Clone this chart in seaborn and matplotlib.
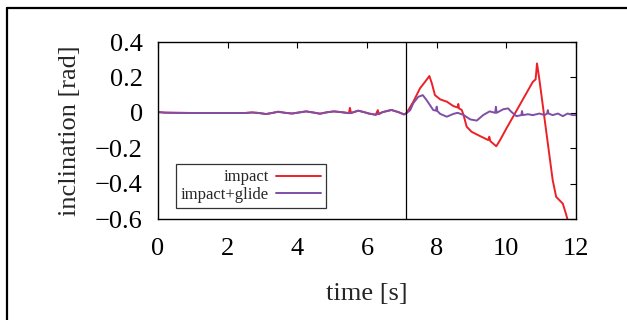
import numpy as np
import pandas as pd
import matplotlib
matplotlib.use("Agg")
import matplotlib.pyplot as plt
from matplotlib.lines import Line2D
import seaborn as sns

# ---- data ----
impact_t = [0.0, 0.2, 0.5, 1.0, 1.5, 2.0, 2.5, 2.7, 2.9, 3.1, 3.3, 3.45, 3.65, 3.85, 4.05, 4.25,
            4.45, 4.65, 4.85, 5.05, 5.25, 5.48, 5.51, 5.54, 5.75, 5.95, 6.05, 6.25, 6.31, 6.34,
            6.45, 6.7, 6.9, 7.06, 7.12,
            7.19, 7.33, 7.52, 7.67, 7.79, 7.86, 7.95, 8.1, 8.29, 8.48, 8.6, 8.62, 8.64, 8.72,
            8.77, 8.86, 9.0, 9.24, 9.48, 9.51, 9.54, 9.67, 9.71, 9.82, 10.0,
            10.19, 10.38, 10.57, 10.76, 10.84, 10.88, 10.95, 11.14, 11.33, 11.43, 11.62, 11.71,
            11.78]
impact_v = [0.004, 0.001, 0.0, -0.001, -0.001, -0.001, -0.001, 0.002, -0.001, -0.007, 0.0, 0.006,
            0.0, -0.004, 0.002, 0.008, 0.002, -0.005, 0.003, 0.008, 0.004, -0.002, 0.028, -0.002,
            0.012, 0.002, -0.004, -0.011, 0.015, -0.008, 0.004, 0.016, 0.004, -0.009, -0.004,
            0.016, 0.063, 0.138, 0.176, 0.208, 0.167, 0.1, 0.076, 0.063, 0.038, 0.03, 0.05, 0.025,
            0.016, -0.012, -0.078, -0.107, -0.131, -0.154, -0.135, -0.16, -0.182,
            -0.189, -0.154, -0.089, -0.023, 0.043, 0.109, 0.175, 0.189, 0.279, 0.185, -0.098,
            -0.38, -0.475, -0.513, -0.57, -0.62]

glide_t = [0.0, 0.2, 0.5, 1.0, 1.5, 2.0, 2.5, 2.7, 2.9, 3.1, 3.3, 3.45, 3.65, 3.85, 4.05, 4.25,
           4.45, 4.65, 4.85, 5.05, 5.25, 5.5, 5.75, 5.95, 6.05, 6.25, 6.45, 6.7, 6.9, 7.06, 7.12,
           7.24, 7.33, 7.47, 7.6, 7.71, 7.9, 7.98, 8.0, 8.02, 8.1, 8.29, 8.48, 8.6,
           8.77, 8.96, 9.15, 9.34, 9.52, 9.68, 9.7, 9.72, 9.91, 10.05, 10.14, 10.29, 10.43,
           10.45, 10.47, 10.62, 10.76, 10.95, 11.1, 11.17, 11.19, 11.21, 11.33, 11.48, 11.62,
           11.76, 11.9, 12.0]
glide_v = [0.004, 0.001, 0.0, -0.001, -0.001, -0.001, -0.001, 0.002, -0.001, -0.007, 0.0, 0.006,
           0.0, -0.004, 0.002, 0.008, 0.002, -0.005, 0.003, 0.008, 0.004, -0.002, 0.012, 0.002,
           -0.004, -0.011, 0.004, 0.016, 0.004, -0.009, -0.004,
           0.015, 0.055, 0.09, 0.1, 0.072, 0.016, 0.012, 0.035, 0.01, -0.006, -0.022,
           -0.006, 0.0, -0.012, -0.037, -0.044, -0.012, 0.008, 0.0, 0.034, 0.0, 0.02,
           0.025, 0.006, -0.019, -0.013, 0.01, -0.013, -0.008, -0.013, -0.004, -0.013, -0.004,
           0.015, -0.004, -0.013, -0.004, -0.019, -0.004, -0.013, -0.013]

impact_time = 7.12
series_names = ["impact", "impact+glide"]
x_ticks = [0, 2, 4, 6, 8, 10, 12]
y_ticks = [-0.6, -0.4, -0.2, 0.0, 0.2, 0.4]
y_tick_labels = ["\u22120.6", "\u22120.4", "\u22120.2", "0", "0.2", "0.4"]

df = pd.concat([
    pd.DataFrame({"time": impact_t, "incl": impact_v, "series": series_names[0]}),
    pd.DataFrame({"time": glide_t, "incl": glide_v, "series": series_names[1]}),
], ignore_index=True)

sns.set_style("white")
plt.rcParams["font.family"] = ["Liberation Serif", "DejaVu Serif"]

fig = plt.figure(figsize=(6.27, 3.2), dpi=100)
ax = fig.add_axes([0.252, 0.3156, 0.6667, 0.5531])

palette = {"impact": "#ec2127", "impact+glide": "#7f4ea6"}
sns.lineplot(data=df, x="time", y="incl", hue="series", palette=palette, sort=False,
             estimator=None, linewidth=1.4, ax=ax, legend=False)

ax.axvline(impact_time, color="black", linewidth=0.9)

ax.set_xlim(0, 12)
ax.set_ylim(-0.6, 0.4)
ax.set_xticks(x_ticks)
ax.set_xticklabels([str(v) for v in x_ticks])
ax.set_yticks(y_ticks)
ax.set_yticklabels(y_tick_labels)
ax.tick_params(direction="in", length=4.5, width=0.8, top=True, right=True,
               labelsize=19, pad=11, colors="black")
ax.tick_params(axis="x", pad=14)
for s in ax.spines.values():
    s.set_visible(True)
    s.set_color("black")
    s.set_linewidth(1.0)

ax.set_xlabel("time [s]", fontsize=19, labelpad=16)
ax.set_ylabel("inclination [rad]", fontsize=19, labelpad=10)

handles = [Line2D([], [], color=palette[n], linewidth=1.4) for n in series_names]
leg = ax.legend(handles, series_names, loc="lower left", bbox_to_anchor=(0.043, 0.062),
                borderaxespad=0, markerfirst=False, fontsize=12, frameon=True,
                fancybox=False, edgecolor="black", handlelength=2.7, handletextpad=0.4,
                labelspacing=0.1, borderpad=0.3)
leg.get_frame().set_linewidth(0.9)

# outer frame lines (left and top of the page box)
fig.add_artist(Line2D([0.0105, 0.0105], [0.0, 0.975], transform=fig.transFigure,
                      color="black", linewidth=1.6))
fig.add_artist(Line2D([0.0105, 1.0], [0.975, 0.975], transform=fig.transFigure,
                      color="black", linewidth=1.6))

fig.savefig("out.png", dpi=100)
